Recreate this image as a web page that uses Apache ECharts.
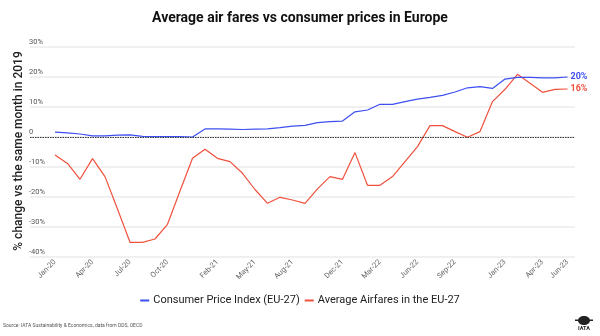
<!DOCTYPE html>
<html>
<head>
<meta charset="utf-8">
<script src="https://cdn.jsdelivr.net/npm/echarts@6/dist/echarts.min.js"></script>
<style>
  html, body { margin: 0; padding: 0; background: #fff; }
  #chart { width: 600px; height: 336px; }
</style>
</head>
<body>
<div id="chart"></div>
<script>
// Months from Jan-20 to Jun-23
const months = [
  'Jan-20','Feb-20','Mar-20','Apr-20','May-20','Jun-20','Jul-20','Aug-20','Sep-20','Oct-20','Nov-20','Dec-20',
  'Jan-21','Feb-21','Mar-21','Apr-21','May-21','Jun-21','Jul-21','Aug-21','Sep-21','Oct-21','Nov-21','Dec-21',
  'Jan-22','Feb-22','Mar-22','Apr-22','May-22','Jun-22','Jul-22','Aug-22','Sep-22','Oct-22','Nov-22','Dec-22',
  'Jan-23','Feb-23','Mar-23','Apr-23','May-23','Jun-23'
];

// Month labels printed under the axis
const tickLabels = ['Jan-20','Apr-20','Jul-20','Oct-20','Feb-21','May-21','Aug-21','Dec-21',
                    'Mar-22','Jun-22','Sep-22','Jan-23','Apr-23','Jun-23'];

// % change vs the same month in 2019
const cpi = [1.6, 1.4, 1.0, 0.4, 0.4, 0.6, 0.7, 0.2, 0.1, 0.1, 0.1, 0.0,
             2.7, 2.7, 2.6, 2.5, 2.6, 2.7, 3.1, 3.6, 3.9, 4.8, 5.1, 5.3,
             8.4, 9.0, 10.9, 10.9, 11.8, 12.6, 13.2, 13.9, 15.0, 16.4, 16.8, 16.2,
             19.3, 19.9, 19.9, 19.7, 19.7, 20.0];

const airfares = [-6.0, -8.8, -14.1, -7.2, -13.2, -24.0, -35.1, -35.1, -34.0, -29.1, -18.0, -7.1,
                  -4.1, -7.1, -8.2, -12.1, -17.5, -22.1, -20.1, -21.0, -22.1, -17.3, -13.2, -14.1,
                  -5.2, -16.1, -16.1, -13.2, -8.2, -3.2, 3.8, 3.8, 1.8, -0.1, 1.8, 11.8,
                  15.9, 20.9, 17.9, 14.9, 15.9, 16.0];

const seriesNames = ['Consumer Price Index (EU-27)', 'Average Airfares in the EU-27'];
const yAxisTitle = '% change vs the same month in 2019';
const BLUE = '#3d4ff0';
const RED = '#f0513d';

const chart = echarts.init(document.getElementById('chart'), null, { renderer: 'canvas' });

const toPairs = arr => arr.map((v, i) => [i, v]);

chart.setOption({
  animation: false,
  textStyle: { fontFamily: 'Roboto' },
  title: {
    text: 'Average air fares vs consumer prices in Europe',
    left: 'center',
    top: 6,
    textStyle: { fontSize: 14, fontWeight: 'bold', color: '#111', fontFamily: 'Roboto' }
  },
  legend: {
    top: 290,
    left: 'center',
    icon: 'rect',
    itemWidth: 9,
    itemHeight: 2,
    itemGap: 5,
    textStyle: { fontSize: 11, color: '#222', padding: [0, 0, 0, -1] },
    data: seriesNames
  },
  grid: { left: 30, right: 25, top: 47, bottom: 79 },
  xAxis: {
    type: 'value',
    min: -2,
    max: 41.6,
    interval: 1,
    splitLine: { show: false },
    axisLine: { show: false },
    axisTick: { show: false },
    axisLabel: {
      rotate: 45,
      fontSize: 7.5,
      color: '#666',
      margin: 4,
      showMinLabel: true,
      showMaxLabel: true,
      formatter: v => {
        const m = months[v];
        return (m && tickLabels.includes(m)) ? m : '';
      }
    }
  },
  yAxis: {
    type: 'value',
    min: -40,
    max: 30,
    interval: 10,
    axisLine: { show: false },
    axisTick: { show: false },
    splitLine: { lineStyle: { color: '#ebebeb', width: 1.5 } },
    axisLabel: {
      align: 'left',
      verticalAlign: 'bottom',
      margin: 1,
      fontSize: 7.5,
      color: '#555',
      padding: [0, 0, 1, 0],
      formatter: v => v === 0 ? '0' : v + '%'
    }
  },
  series: [
    {
      name: seriesNames[0],
      type: 'line',
      data: toPairs(cpi),
      symbol: 'none',
      lineStyle: { color: BLUE, width: 1.2 },
      itemStyle: { color: BLUE },
      endLabel: {
        show: true,
        distance: 3,
        color: BLUE,
        fontSize: 9,
        fontWeight: 'bold',
        formatter: p => Math.round(p.value[1]) + '%'
      },
      markLine: {
        silent: true,
        symbol: 'none',
        label: { show: false },
        lineStyle: { color: '#333', type: [1.5, 1], width: 1.2 },
        data: [{ yAxis: 0 }]
      },
      z: 3
    },
    {
      name: seriesNames[1],
      type: 'line',
      data: toPairs(airfares),
      symbol: 'none',
      lineStyle: { color: RED, width: 1.2 },
      itemStyle: { color: RED },
      endLabel: {
        show: true,
        distance: 3,
        color: RED,
        fontSize: 9,
        fontWeight: 'bold',
        formatter: p => Math.round(p.value[1]) + '%'
      },
      z: 2
    }
  ],
  graphic: [
    {
      // vertical axis title
      type: 'text',
      x: 18.5,
      y: 151,
      rotation: Math.PI / 2,
      style: {
        text: yAxisTitle,
        fontSize: 12,
        fontWeight: 500,
        fill: '#222',
        fontFamily: 'Roboto',
        align: 'center',
        verticalAlign: 'middle'
      }
    },
    {
      type: 'text',
      left: 3,
      top: 323,
      style: {
        text: 'Source: IATA Sustainability & Economics, data from DDS, OECD',
        fontSize: 5,
        fill: '#555',
        fontFamily: 'Roboto'
      }
    },
    {
      type: 'group',
      left: 575,
      top: 316,
      children: [
        { type: 'ellipse', shape: { cx: 9, cy: 5, rx: 6, ry: 4.5 }, style: { fill: '#222' } },
        { type: 'rect', shape: { x: 0, y: 4, width: 18, height: 1.5 }, style: { fill: '#222' } },
        { type: 'text', style: { x: 9, y: 10, text: 'IATA', fontSize: 5.5, fontWeight: 'bold',
          fill: '#222', align: 'center', fontFamily: 'Roboto' } }
      ]
    }
  ]
});
</script>
</body>
</html>
